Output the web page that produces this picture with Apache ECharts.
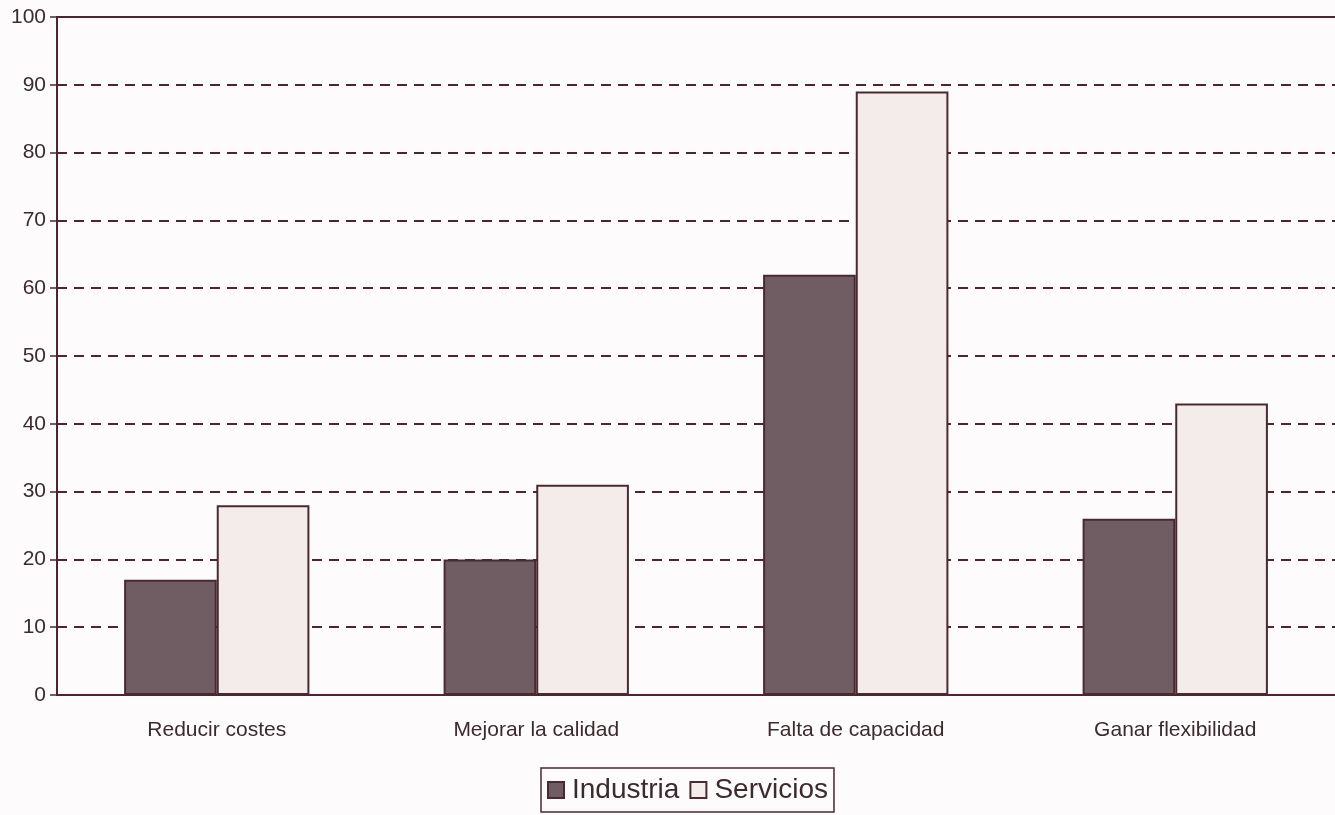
<!DOCTYPE html>
<html>
<head>
<meta charset="utf-8">
<script src="https://cdn.jsdelivr.net/npm/echarts@6/dist/echarts.min.js"></script>
<style>
  html, body { margin: 0; padding: 0; background: #fdfbfb; }
  #main { width: 1335px; height: 815px; }
</style>
</head>
<body>
<div id="main"></div>
<script>
// categorias del eje x
var categorias = ['Reducir costes', 'Mejorar la calidad', 'Falta de capacidad', 'Ganar flexibilidad'];
// porcentajes por sector
var industria = [17, 20, 62, 26];
var servicios = [28, 31, 89, 43];
// etiquetas del eje y
var ticksY = [0, 10, 20, 30, 40, 50, 60, 70, 80, 90, 100];

var lineaColor = '#4e2430';
var textoColor = '#3b2a2e';

var myChart = echarts.init(document.getElementById('main'));
var option = {
	backgroundColor: '#fdfbfb',
	animation: false,
	textStyle: { fontFamily: 'Liberation Sans, Arial, sans-serif' },
	grid: { left: 57, right: 0, top: 17, bottom: 120 },
	legend: {
		data: ['Industria', 'Servicios'],
		bottom: 3,
		left: 541,
		icon: 'rect',
		itemWidth: 16,
		itemHeight: 16,
		itemGap: 10,
		padding: [8, 6, 8, 6],
		borderColor: lineaColor,
		borderWidth: 1.5,
		textStyle: { fontSize: 28, color: textoColor, padding: [0, 0, 0, 3] }
	},
	xAxis: [{
		type: 'category',
		data: categorias,
		axisLine: { lineStyle: { color: lineaColor, width: 2 } },
		axisTick: { length: 8, lineStyle: { color: lineaColor, width: 1.5 } },
		axisLabel: { color: textoColor, fontSize: 21, margin: 25 }
	}, {
		type: 'category',
		position: 'top',
		data: categorias,
		axisLine: { show: true, lineStyle: { color: lineaColor, width: 2 } },
		axisTick: { show: false },
		axisLabel: { show: false }
	}],
	yAxis: {
		type: 'value',
		min: 0,
		max: 100,
		interval: 10,
		axisLine: { show: true, lineStyle: { color: lineaColor, width: 2 } },
		axisTick: { show: true, length: 7, lineStyle: { color: lineaColor, width: 1.5 } },
		axisLabel: {
			color: textoColor, fontSize: 21, margin: 11,
			formatter: function (v) { return ticksY.indexOf(v) >= 0 ? String(v) : ''; }
		},
		splitLine: {
			lineStyle: { color: lineaColor, width: 2, type: [10, 7] }
		}
	},
	series: [{
		name: 'Industria',
		type: 'bar',
		data: industria,
		barGap: '0%',
		barCategoryGap: '42%',
		itemStyle: { color: '#6f5d63', borderColor: '#4a2a32', borderWidth: 2 }
	}, {
		name: 'Servicios',
		type: 'bar',
		data: servicios,
		itemStyle: { color: '#f4eceb', borderColor: '#4a2a32', borderWidth: 2 }
	}]
};
myChart.setOption(option);
</script>
</body>
</html>
